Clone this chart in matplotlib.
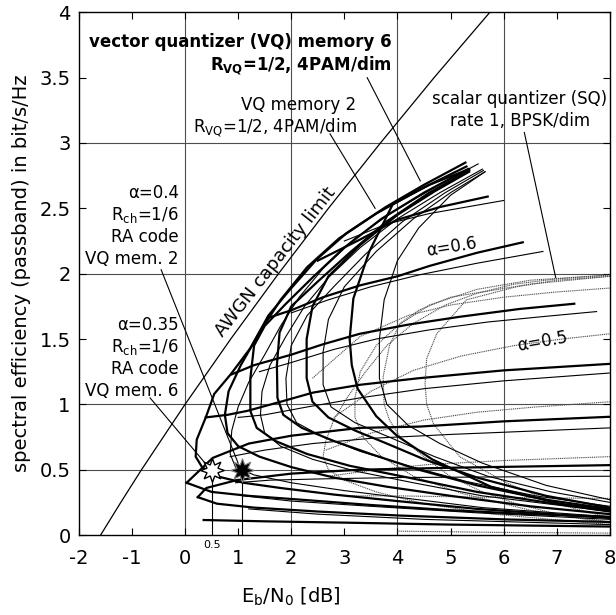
import matplotlib
matplotlib.use("Agg")
import matplotlib.pyplot as plt
from matplotlib.transforms import blended_transform_factory

# AWGN capacity limit (Eb/N0 in dB, bit/s/Hz)
awgn_x = [-1.59, -1.21, -0.82, 0.0, 0.86, 1.76, 2.70, 3.68, 4.69, 5.74]
awgn_y = [0.0, 0.25, 0.5, 1.0, 1.5, 2.0, 2.5, 3.0, 3.5, 4.0]

# VQ memory 6 (thick): curves of constant code rate (C-shaped)
vq6_rate = [
    [(5.28, 2.85), (4.5, 2.68), (3.78, 2.51), (3.04, 2.31), (2.48, 2.11), (1.98, 1.88),
     (1.57, 1.68), (1.23, 1.43), (0.86, 1.23), (0.55, 1.08), (0.39, 0.9), (0.22, 0.73),
     (0.2, 0.6), (0.32, 0.52), (0.6, 0.45), (1.1, 0.4), (1.8, 0.36), (2.8, 0.31),
     (4.0, 0.26), (5.5, 0.2), (8.0, 0.13)],
    [(5.3, 2.82), (4.4, 2.64), (3.6, 2.46), (2.9, 2.27), (2.3, 2.05), (1.8, 1.8),
     (1.4, 1.55), (1.05, 1.3), (0.82, 1.1), (0.75, 0.92), (0.8, 0.78), (1.0, 0.68),
     (1.4, 0.6), (2.0, 0.52), (2.8, 0.44), (3.8, 0.37), (5.0, 0.3), (6.5, 0.22), (8.0, 0.16)],
    [(5.33, 2.8), (4.5, 2.62), (3.7, 2.42), (3.0, 2.2), (2.4, 1.97), (1.9, 1.77),
     (1.5, 1.6), (1.3, 1.45), (1.23, 1.2), (1.23, 0.95), (1.35, 0.82), (1.7, 0.72),
     (2.3, 0.62), (3.1, 0.53), (4.2, 0.44), (5.5, 0.33), (6.8, 0.25), (8.0, 0.18)],
    [(5.35, 2.79), (4.6, 2.62), (3.8, 2.4), (3.1, 2.16), (2.5, 1.94), (2.0, 1.75),
     (1.78, 1.55), (1.73, 1.3), (1.74, 1.05), (1.85, 0.92), (2.2, 0.82), (2.8, 0.72),
     (3.5, 0.62), (4.4, 0.5), (5.5, 0.38), (6.8, 0.27), (8.0, 0.2)],
    [(5.35, 2.78), (4.7, 2.63), (4.0, 2.45), (3.3, 2.22), (2.7, 1.98), (2.4, 1.75),
     (2.29, 1.5), (2.29, 1.2), (2.4, 1.02), (2.7, 0.9), (3.2, 0.8), (3.8, 0.7),
     (4.5, 0.58), (5.5, 0.44), (6.8, 0.3), (8.0, 0.21)],
    [(5.35, 2.8), (4.6, 2.68), (3.91, 2.53), (3.47, 2.17), (3.17, 1.81), (3.1, 1.5),
     (3.14, 1.3), (3.25, 1.12), (3.6, 0.91), (3.99, 0.76), (4.65, 0.58), (5.76, 0.37),
     (7.06, 0.24), (8.0, 0.19)],
]

# VQ memory 6 (thick): curves of constant alpha
vq6_alpha = [
    [(2.5, 2.1), (3.29, 2.26), (3.98, 2.41), (4.8, 2.51), (5.7, 2.59)],
    [(1.55, 1.66), (2.0, 1.72), (2.6, 1.82), (3.29, 1.91), (4.0, 1.98), (4.61, 2.06),
     (5.5, 2.16), (6.36, 2.24)],
    [(0.88, 1.23), (1.3, 1.3), (2.0, 1.38), (2.6, 1.46), (3.29, 1.54), (4.2, 1.61),
     (5.17, 1.67), (6.3, 1.73), (7.33, 1.77)],
    [(0.39, 0.9), (0.8, 0.92), (1.17, 0.95), (1.8, 1.02), (2.41, 1.09), (3.3, 1.15),
     (4.4, 1.2), (6.0, 1.26), (8.0, 1.31)],
    [(0.03, 0.40), (0.52, 0.59), (1.2, 0.7), (2.0, 0.76), (3.29, 0.82), (4.42, 0.83),
     (6.0, 0.87), (8.0, 0.905)],
    [(0.24, 0.29), (0.4, 0.36), (0.97, 0.42), (2.0, 0.47), (3.29, 0.5), (5.0, 0.515),
     (8.0, 0.535)],
    [(0.03, 0.40), (0.5, 0.33), (1.2, 0.3), (2.2, 0.27), (3.5, 0.23), (5.0, 0.19),
     (6.5, 0.16), (8.0, 0.14)],
    [(0.24, 0.29), (0.6, 0.24), (1.3, 0.21), (2.5, 0.18), (4.0, 0.15), (6.0, 0.12),
     (8.0, 0.1)],
    [(0.35, 0.115), (1.5, 0.105), (3.0, 0.095), (5.0, 0.08), (8.0, 0.065)],
]

# VQ memory 2 (thin)
vq2_rate = [
    [(5.52, 2.84), (4.7, 2.66), (3.9, 2.47), (3.2, 2.27), (2.6, 2.04), (2.15, 1.82),
     (1.8, 1.6), (1.5, 1.38), (1.2, 1.17), (1.0, 0.98), (0.88, 0.8), (0.85, 0.62),
     (0.95, 0.52), (1.3, 0.46), (2.0, 0.4), (3.0, 0.34), (4.2, 0.28), (5.6, 0.21), (8.0, 0.14)],
    [(5.6, 2.8), (4.8, 2.62), (4.0, 2.42), (3.3, 2.2), (2.7, 1.97), (2.25, 1.75),
     (1.9, 1.52), (1.6, 1.3), (1.45, 1.1), (1.42, 0.92), (1.5, 0.78), (1.8, 0.68),
     (2.4, 0.58), (3.2, 0.49), (4.3, 0.4), (5.6, 0.3), (8.0, 0.18)],
    [(5.62, 2.79), (4.9, 2.62), (4.1, 2.4), (3.4, 2.15), (2.8, 1.9), (2.3, 1.68),
     (2.0, 1.45), (1.9, 1.2), (1.92, 1.0), (2.1, 0.86), (2.6, 0.75), (3.3, 0.64),
     (4.2, 0.53), (5.3, 0.41), (6.6, 0.3), (8.0, 0.22)],
    [(5.65, 2.78), (5.0, 2.62), (4.3, 2.42), (3.6, 2.17), (3.0, 1.9), (2.7, 1.65),
     (2.6, 1.4), (2.6, 1.15), (2.75, 0.98), (3.2, 0.86), (3.9, 0.74), (4.7, 0.6),
     (5.7, 0.45), (6.9, 0.33), (8.0, 0.25)],
    [(5.65, 2.78), (5.0, 2.6), (4.4, 2.35), (4.0, 2.1), (3.75, 1.8), (3.66, 1.5),
     (3.66, 1.2), (3.8, 1.0), (4.2, 0.84), (4.8, 0.7), (5.6, 0.55), (6.8, 0.38), (8.0, 0.27)],
]

vq2_alpha = [
    [(3.0, 2.25), (3.8, 2.38), (4.6, 2.46), (5.3, 2.51), (6.0, 2.56)],
    [(2.0, 1.7), (2.7, 1.8), (3.5, 1.9), (4.4, 1.99), (5.5, 2.08), (6.74, 2.17)],
    [(1.4, 1.25), (2.0, 1.32), (2.8, 1.42), (3.6, 1.5), (4.6, 1.57), (5.7, 1.63),
     (6.7, 1.67), (7.75, 1.71)],
    [(1.0, 0.9), (1.5, 0.92), (2.3, 0.98), (3.3, 1.05), (4.5, 1.12), (6.0, 1.18), (8.0, 1.24)],
    [(0.85, 0.6), (1.5, 0.65), (2.4, 0.7), (3.5, 0.74), (5.0, 0.77), (8.0, 0.82)],
    [(0.95, 0.4), (1.6, 0.42), (2.6, 0.43), (4.0, 0.44), (8.0, 0.45)],
    [(1.1, 0.3), (2.0, 0.26), (3.5, 0.22), (5.5, 0.17), (8.0, 0.12)],
    [(1.2, 0.2), (2.5, 0.16), (4.5, 0.12), (8.0, 0.08)],
]

# scalar quantizer (dotted)
sq_rate = [
    [(8.0, 1.99), (7.0, 1.96), (6.2, 1.92), (5.5, 1.85), (4.9, 1.76), (4.3, 1.62),
     (3.8, 1.45), (3.4, 1.25), (3.05, 1.05), (2.8, 0.88), (2.65, 0.72), (2.6, 0.6),
     (2.7, 0.5), (3.0, 0.42), (3.6, 0.33), (4.5, 0.24), (5.8, 0.16), (8.0, 0.08)],
    [(8.0, 1.99), (6.5, 1.95), (5.5, 1.88), (4.6, 1.76), (4.0, 1.6), (3.6, 1.45),
     (3.3, 1.25), (3.2, 1.05), (3.2, 0.9), (3.35, 0.75), (3.7, 0.6), (4.3, 0.45),
     (5.2, 0.32), (6.5, 0.19), (8.0, 0.09)],
    [(8.0, 1.98), (6.5, 1.92), (5.0, 1.82), (4.4, 1.72), (4.05, 1.62), (3.85, 1.45),
     (3.73, 1.21), (3.75, 1.0), (3.85, 0.88), (4.05, 0.75), (4.5, 0.6), (4.99, 0.45),
     (5.6, 0.33), (6.24, 0.24), (7.0, 0.16), (8.0, 0.1)],
    [(8.0, 1.98), (7.0, 1.95), (6.24, 1.9), (5.3, 1.8), (4.74, 1.54), (4.55, 1.35),
     (4.52, 1.16), (4.55, 1.0), (4.68, 0.85), (5.17, 0.6), (6.05, 0.4), (7.0, 0.24), (8.0, 0.13)],
]

sq_alpha = [
    [(2.4, 1.2), (3.3, 1.52), (4.2, 1.68), (5.0, 1.76), (6.0, 1.82), (7.0, 1.86), (8.0, 1.89)],
    [(2.8, 0.9), (3.5, 1.1), (4.3, 1.26), (5.2, 1.37), (6.2, 1.45), (7.1, 1.5), (8.0, 1.54)],
    [(2.65, 0.65), (3.5, 0.78), (4.5, 0.88), (5.5, 0.94), (6.6, 0.98), (8.0, 1.02)],
    [(2.7, 0.45), (3.6, 0.5), (4.6, 0.54), (6.0, 0.57), (8.0, 0.6)],
    [(3.0, 0.3), (4.0, 0.3), (5.5, 0.29), (8.0, 0.28)],
    [(4.0, 0.03), (5.0, 0.025), (6.0, 0.02), (8.0, 0.015)],
]

# operating points (RA code, Rch=1/6)
star_x = [0.5, 1.07]
star_y = [0.5, 0.5]

x_ticks = [-2, -1, 0, 1, 2, 3, 4, 5, 6, 7, 8]
y_ticks = [0, 0.5, 1, 1.5, 2, 2.5, 3, 3.5, 4]
x_grid = [0, 2, 4, 6]
y_grid = [0.5, 1, 2, 3]


def draw(ax, curves, **style):
    for pts in curves:
        xs = [p[0] for p in pts]
        ys = [p[1] for p in pts]
        ax.plot(xs, ys, **style)


fig = plt.figure(figsize=(6.16, 6.15), dpi=100)
ax = fig.add_axes([0.128, 0.130, 0.862, 0.850])

for gx in x_grid:
    ax.axvline(gx, color="0.3", lw=0.8, zorder=1)
for gy in y_grid:
    ax.axhline(gy, color="0.3", lw=0.8, zorder=1)

ax.plot(awgn_x, awgn_y, color="black", lw=0.9, zorder=3)

draw(ax, sq_rate, color="0.3", lw=0.8, ls=(0, (1, 0.7)), zorder=2)
draw(ax, sq_alpha, color="0.3", lw=0.8, ls=(0, (1, 0.7)), zorder=2)
draw(ax, vq2_rate, color="black", lw=0.8, zorder=3)
draw(ax, vq2_alpha, color="black", lw=0.8, zorder=3)
draw(ax, vq6_rate, color="black", lw=1.6, zorder=4)
draw(ax, vq6_alpha, color="black", lw=1.6, zorder=4)

# guide lines down to the operating points
for sx, sy in zip(star_x, star_y):
    ax.plot([sx, sx], [0, sy], color="black", lw=0.8, zorder=3)
ax.plot(star_x[:1], star_y[:1], marker=(8, 1, 0), ms=17, mfc="white", mec="black",
        mew=1.0, ls="none", zorder=6)
ax.plot(star_x[1:], star_y[1:], marker=(8, 1, 0), ms=17, mfc="black", mec="0.5",
        mew=0.8, ls="none", zorder=6)

ax.set_xlim(-2, 8)
ax.set_ylim(0, 4)
ax.set_xticks(x_ticks)
ax.set_xticklabels([str(t) for t in x_ticks])
ax.set_yticks(y_ticks)
ax.set_yticklabels(["0", "0.5", "1", "1.5", "2", "2.5", "3", "3.5", "4"])
ax.tick_params(direction="in", length=5, width=0.8, top=True, right=True,
               labelsize=14)
ax.tick_params(axis="x", pad=10)
ax.tick_params(axis="y", pad=6)
for sp in ax.spines.values():
    sp.set_linewidth(1.0)

ax.text(0.5, -0.035, "0.5", fontsize=8, ha="center", va="top")
ax.set_ylabel("spectral efficiency (passband) in bit/s/Hz", fontsize=14, labelpad=6)
trans = blended_transform_factory(ax.transData, ax.transAxes)
ax.text(2.0, -0.118, r"E$_\mathrm{b}$/N$_0$ [dB]", fontsize=14, ha="center",
        va="center", transform=trans)

fs = 12
ax.text(3.89, 3.77, "vector quantizer (VQ) memory 6", fontsize=fs, fontweight="bold",
        ha="right", va="center")
ax.text(3.89, 3.60, r"R$_\mathbf{VQ}$=1/2, 4PAM/dim", fontsize=fs, fontweight="bold",
        ha="right", va="center")
ax.text(3.23, 3.29, "VQ memory 2", fontsize=fs, ha="right", va="center")
ax.text(3.23, 3.12, r"R$_\mathrm{VQ}$=1/2, 4PAM/dim", fontsize=fs, ha="right", va="center")
ax.text(6.3, 3.34, "scalar quantizer (SQ)", fontsize=fs, ha="center", va="center")
ax.text(6.3, 3.17, "rate 1, BPSK/dim", fontsize=fs, ha="center", va="center")

lines_a = ["\u03b1=0.4", r"R$_\mathrm{ch}$=1/6", "RA code", "VQ mem. 2"]
for k, s in enumerate(lines_a):
    ax.text(-0.12, 2.62 - 0.17 * k, s, fontsize=fs, ha="right", va="center")
lines_b = ["\u03b1=0.35", r"R$_\mathrm{ch}$=1/6", "RA code", "VQ mem. 6"]
for k, s in enumerate(lines_b):
    ax.text(-0.12, 1.61 - 0.17 * k, s, fontsize=fs, ha="right", va="center")

ax.text(1.71, 2.09, "AWGN capacity limit", fontsize=13, rotation=52,
        ha="center", va="center")
ax.text(5.02, 2.20, "\u03b1=0.6", fontsize=fs, rotation=9, ha="center", va="center")
ax.text(6.72, 1.48, "\u03b1=0.5", fontsize=fs, rotation=10, ha="center", va="center")

# leader lines
leaders = [
    ((3.43, 3.50), (4.43, 2.71)),
    ((2.73, 3.07), (3.58, 2.50)),
    ((6.39, 3.08), (6.98, 1.97)),
    ((-0.45, 2.03), (1.0, 0.55)),
    ((-0.66, 1.05), (0.42, 0.53)),
]
for (x0, y0), (x1, y1) in leaders:
    ax.plot([x0, x1], [y0, y1], color="black", lw=0.8, zorder=5)

fig.savefig("out.png", dpi=100)
